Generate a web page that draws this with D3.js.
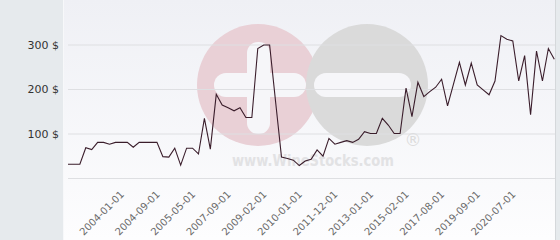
<!DOCTYPE html>
<html><head><meta charset="utf-8">
<script src="https://cdn.jsdelivr.net/npm/d3@7"></script>
<style>
html,body{margin:0;padding:0;background:#fff;}
svg{display:block;}
</style></head>
<body>
<svg id="chart" width="560" height="240"></svg>
<script>
const prices = [31,31,31,68,64,80,80,76,80,80,80,69,80,80,80,80,48,47,67,29,67,67,54,134,65,188,164,158,151,158,136,136,291,299,299,172,47,44,40,28,38,42,63,49,89,76,80,84,80,87,104,100,100,134,119,100,100,202,138,215,183,194,204,222,162,211,260,209,258,209,198,187,218,320,312,308,218,275,142,285,218,291,267];
// Dates shown on the x axis (every 6th observation, starting at the 10th)
const xLabels = ["2004-01-01","2004-09-01","2005-05-01","2007-09-01","2009-02-01","2010-01-01","2011-12-01","2013-01-01","2015-02-01","2017-08-01","2019-09-01","2020-07-01"];
const labelStart = 9, labelStep = 6;
const yTicks = [100,200,300];
const gridTicks = [0,100,200,300];

const W = 560, H = 240;
const svg = d3.select("#chart");
const defs = svg.append("defs");
const grad = defs.append("linearGradient").attr("id","bg").attr("x1",0).attr("y1",0).attr("x2",0).attr("y2",1);
grad.append("stop").attr("offset","0%").attr("stop-color","#eff0f5");
grad.append("stop").attr("offset","100%").attr("stop-color","#fdfdfe");

// backgrounds
svg.append("rect").attr("x",0).attr("y",0).attr("width",W).attr("height",H).attr("fill","#e6eaed");
svg.append("rect").attr("x",63).attr("y",0).attr("width",492).attr("height",H).attr("fill","url(#bg)");
svg.append("line").attr("x1",63.5).attr("x2",63.5).attr("y1",0).attr("y2",H).attr("stroke","#f7f8fa");
svg.append("line").attr("x1",555.5).attr("x2",555.5).attr("y1",0).attr("y2",H).attr("stroke","#d5d8db");

const x = d3.scalePoint().domain(d3.range(prices.length)).range([68, 554.3]);
const y = d3.scaleLinear().domain([0,400]).range([178, 0]);

// watermark
const wm = svg.append("g");
wm.append("circle").attr("cx",258).attr("cy",85).attr("r",61).attr("fill","#e9d0d6");
wm.append("circle").attr("cx",367).attr("cy",85).attr("r",61).attr("fill","#dadada");
wm.append("rect").attr("x",214).attr("y",73).attr("width",92).attr("height",24).attr("rx",12).attr("fill","#f6f6f9");
wm.append("rect").attr("x",247).attr("y",42).attr("width",23).attr("height",92).attr("rx",11).attr("fill","#f6f6f9");
wm.append("rect").attr("x",314).attr("y",73).attr("width",97).attr("height",24).attr("rx",12).attr("fill","#f6f6f9");
wm.append("text").attr("x",232).attr("y",166).attr("textLength",162).attr("lengthAdjust","spacingAndGlyphs")
  .attr("font-family","DejaVu Sans").attr("font-weight","bold").attr("font-size",15).attr("fill","#e2e2e4").text("www.WineStocks.com");
wm.append("text").attr("x",413).attr("y",146).attr("text-anchor","middle")
  .attr("font-family","DejaVu Sans").attr("font-size",17).attr("fill","#dcdcdc").text("®");

// grid
const grid = svg.append("g").attr("transform","translate(68,0)")
  .call(d3.axisLeft(y).tickValues(gridTicks).tickSize(-(555-68)).tickFormat(""));
grid.select(".domain").remove();
grid.selectAll("line").attr("stroke","#dedfe2").attr("stroke-width",1);

// y axis labels
const ya = svg.append("g").attr("transform","translate(68,0)")
  .call(d3.axisLeft(y).tickValues(yTicks).tickSize(0).tickPadding(9).tickFormat(d => d + " $"));
ya.select(".domain").remove();
ya.selectAll("text").attr("font-family","DejaVu Sans").attr("font-size",11).attr("fill","#333");

// x axis labels
const tickIdx = xLabels.map((_, i) => labelStart + i*labelStep);
const xa = svg.append("g").attr("transform","translate(0,178)")
  .call(d3.axisBottom(x).tickValues(tickIdx).tickSize(0).tickFormat((d,i) => xLabels[i]));
xa.select(".domain").remove();
xa.selectAll("text")
  .attr("font-family","DejaVu Sans").attr("font-size",10).attr("fill","#6a6a6a")
  .attr("text-anchor","end").attr("dy",0).attr("y",0)
  .attr("transform","translate(3,17) rotate(-45)");

// line
svg.append("path").datum(prices)
  .attr("fill","none").attr("stroke","#3a1d2b").attr("stroke-width",1.1)
  .attr("d", d3.line().x((d,i) => x(i)).y(d => y(d)));
</script>
</body></html>
